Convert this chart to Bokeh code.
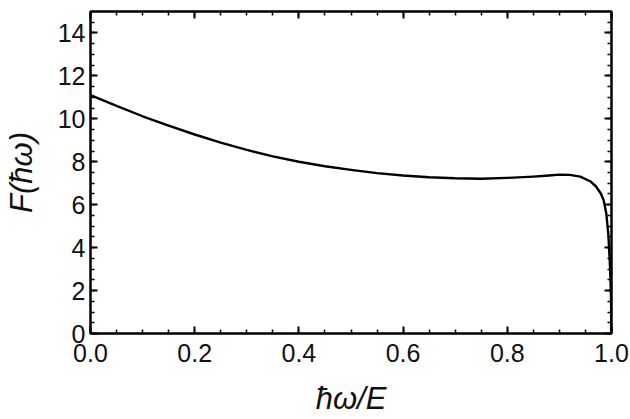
from bokeh.plotting import figure
from bokeh.models import LinearAxis, FixedTicker, PrintfTickFormatter, Range1d, CustomJSTickFormatter
from bokeh.embed import file_html
from bokeh.resources import INLINE

# data
x_vals = [0.0, 0.05, 0.1, 0.15, 0.2, 0.25, 0.3, 0.35, 0.4, 0.45, 0.5, 0.55, 0.6, 0.65,
          0.7, 0.75, 0.8, 0.85, 0.88, 0.9, 0.92, 0.94, 0.96, 0.97, 0.98, 0.985, 0.99,
          0.994, 0.997, 0.999, 1.0]
f_vals = [11.1, 10.6, 10.12, 9.68, 9.27, 8.89, 8.55, 8.25, 8.0, 7.79, 7.62, 7.47, 7.36, 7.28,
          7.23, 7.21, 7.25, 7.31, 7.36, 7.40, 7.39, 7.31, 7.08, 6.86, 6.5, 6.2, 5.6,
          4.6, 3.2, 1.8, 0.0]
x_ticks = [0.0, 0.2, 0.4, 0.6, 0.8, 1.0]
x_minor = [i * 0.05 for i in range(21)]
y_ticks = [0, 2, 4, 6, 8, 10, 12, 14]
y_minor = [i * 0.5 for i in range(31)]

FONT = "Liberation Sans"

p = figure(width=630, height=419, output_backend="svg", toolbar_location=None,
           x_range=Range1d(0, 1), y_range=Range1d(0, 15),
           x_axis_label="ħω/E", y_axis_label="F(ħω)",
           min_border_left=87, min_border_right=19, min_border_top=11, min_border_bottom=86)
p.grid.visible = False
p.outline_line_color = "black"
p.outline_line_width = 2
p.background_fill_color = "white"
p.border_fill_color = "white"

p.line(x_vals, f_vals, line_color="black", line_width=2.4, line_join="round")

xt = FixedTicker(ticks=x_ticks, minor_ticks=x_minor)
yt = FixedTicker(ticks=y_ticks, minor_ticks=y_minor)


def style(ax):
    ax.axis_line_color = "black"
    ax.axis_line_width = 2
    ax.major_tick_in = 7
    ax.major_tick_out = 0
    ax.minor_tick_in = 4
    ax.minor_tick_out = 0
    ax.major_tick_line_width = 2
    ax.minor_tick_line_width = 1.5
    ax.major_tick_line_color = "black"
    ax.minor_tick_line_color = "black"
    ax.major_label_text_font = FONT
    ax.major_label_text_font_size = "25px"
    ax.major_label_text_color = "#111111"
    ax.axis_label_text_font = FONT
    ax.axis_label_text_font_size = "31px"
    ax.axis_label_text_font_style = "italic"
    ax.axis_label_text_color = "#111111"


xa = p.xaxis[0]
xa.ticker = xt
xa.formatter = PrintfTickFormatter(format="%.1f")
style(xa)
xa.major_label_standoff = 10
xa.axis_label_standoff = 16

ya = p.yaxis[0]
ya.ticker = yt
style(ya)
ya.major_label_standoff = 5
ya.axis_label_standoff = 16

blank = CustomJSTickFormatter(code="return '';")

top = LinearAxis(ticker=FixedTicker(ticks=x_ticks, minor_ticks=x_minor), formatter=blank)
style(top)
top.major_label_standoff = 0
p.add_layout(top, "above")

right = LinearAxis(ticker=FixedTicker(ticks=y_ticks, minor_ticks=y_minor), formatter=blank)
style(right)
right.major_label_standoff = 0
p.add_layout(right, "right")

open("out.html", "w").write(file_html(p, INLINE))
